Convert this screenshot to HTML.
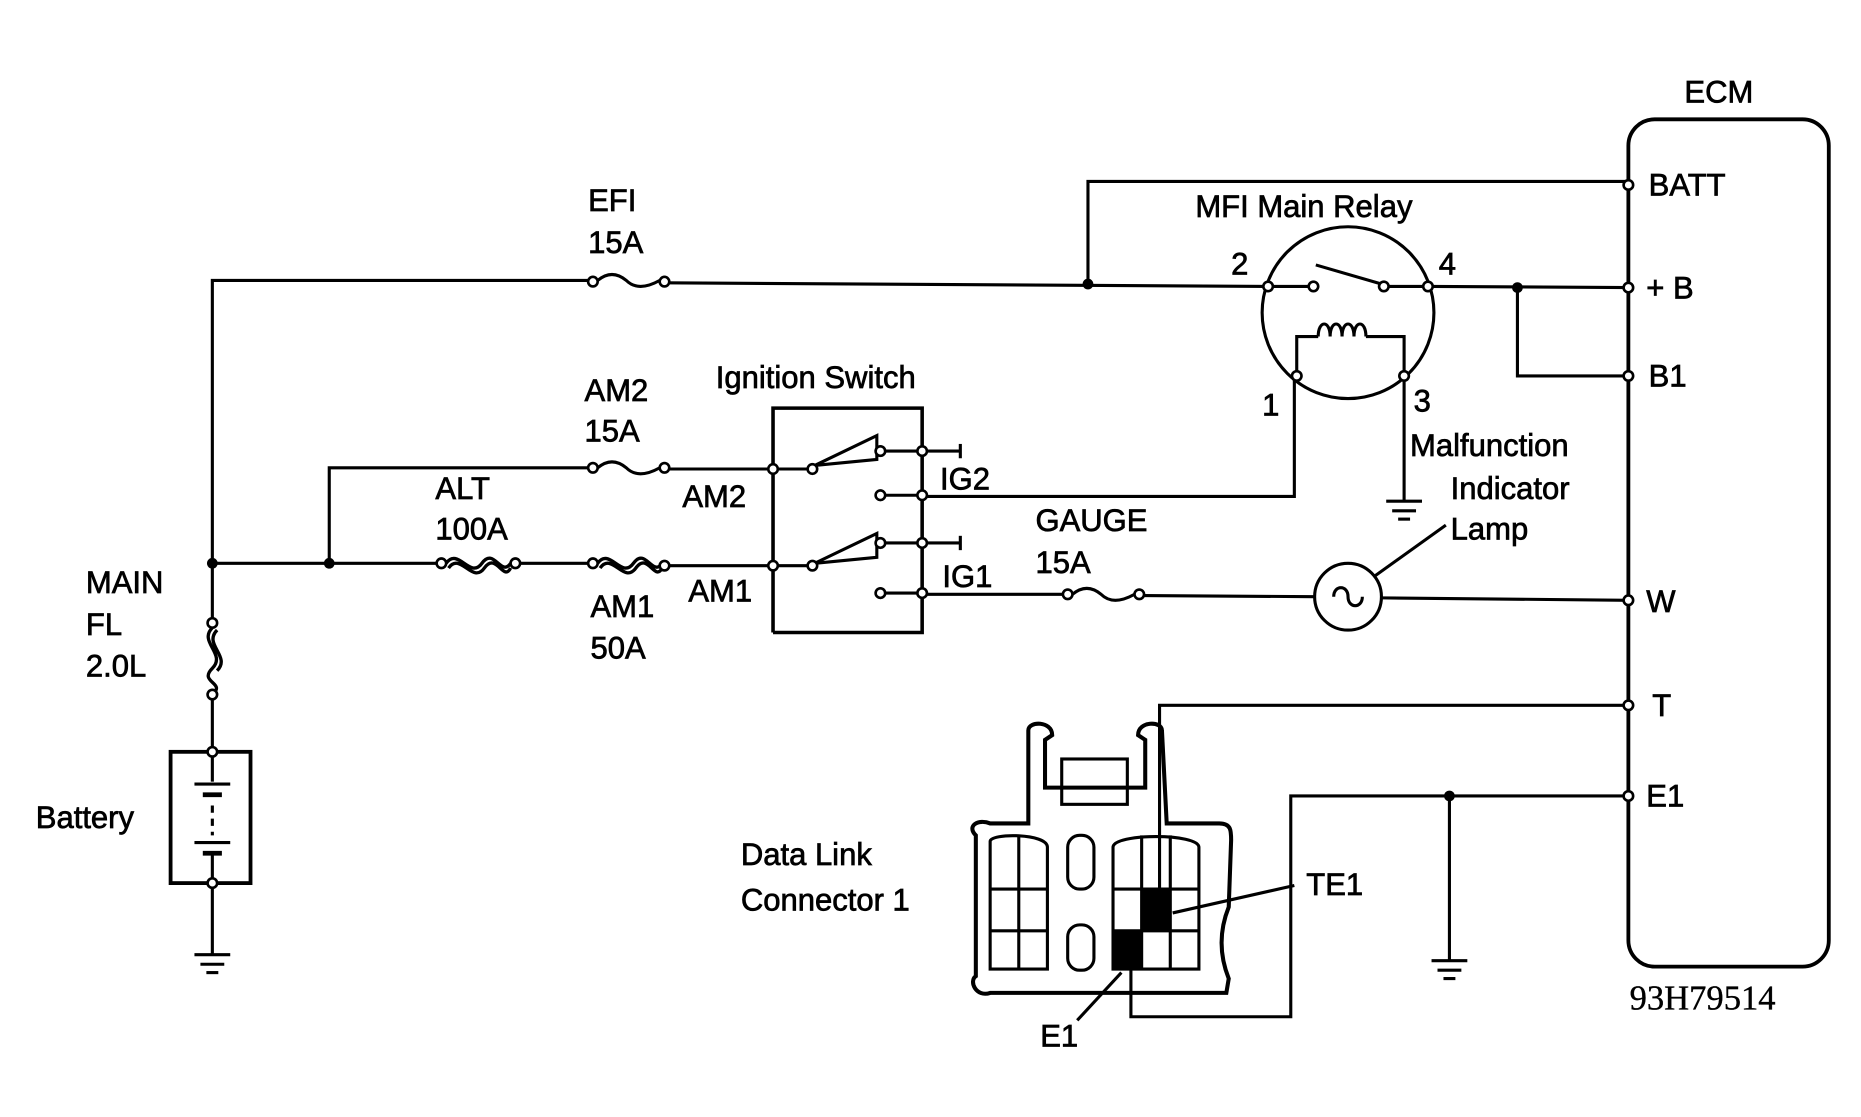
<!DOCTYPE html>
<html><head><style>html,body{margin:0;padding:0;background:#fff;width:1861px;height:1117px;overflow:hidden}
svg{display:block}text{font-family:"Liberation Sans",sans-serif;fill:#000;stroke:#000;stroke-width:0.6}</style></head><body>
<svg width="1861" height="1117" viewBox="0 0 1560 936" preserveAspectRatio="none" xmlns="http://www.w3.org/2000/svg">
<g fill="none" stroke="#000" stroke-width="2.6">
<rect x="1365" y="100" width="168" height="710" rx="22" stroke-width="3.2"/>
<polyline points="912,238 912,152 1365,152"/>
<polyline points="178,472 178,235 497,235"/>
<path d="M501,235 q12,-10 24,0 q10,10 28,0"/>
<line x1="557" y1="237" x2="1062" y2="240"/>
<line x1="178" y1="472" x2="178" y2="520"/>
<path d="M178,526 c-12,12 12,22 0,34 c-12,12 12,12 0,22 M182,528 c-12,12 12,22 0,34" stroke-width="2.8"/>
<line x1="178" y1="584" x2="178" y2="630"/>
<rect x="143" y="630" width="67" height="110" stroke-width="3.2"/>
<line x1="178" y1="630" x2="178" y2="655"/><line x1="163" y1="657" x2="193" y2="657"/><line x1="170" y1="666" x2="186" y2="666" stroke-width="4"/>
<line x1="178" y1="675" x2="178" y2="700" stroke-dasharray="6 5"/>
<line x1="163" y1="706" x2="193" y2="706"/><line x1="170" y1="715" x2="186" y2="715" stroke-width="4"/>
<line x1="178" y1="715" x2="178" y2="740"/>
<line x1="178" y1="740" x2="178" y2="800"/>
<line x1="163" y1="800" x2="193" y2="800"/><line x1="168" y1="808" x2="188" y2="808"/><line x1="173" y1="815" x2="183" y2="815"/>
<line x1="178" y1="472" x2="370" y2="472"/>
<path d="M374,472 c10,-14 20,14 30,0 c10,-14 16,12 24,0 M376,476 c10,-14 20,14 30,0 c10,-14 16,12 22,0" stroke-width="2.8"/>
<line x1="432" y1="472" x2="497" y2="472"/>
<path d="M501,472 c10,-14 20,14 30,0 c10,-14 16,12 24,0 M503,476 c10,-14 20,14 30,0 c10,-14 16,12 22,0" stroke-width="2.8"/>
<line x1="557" y1="474" x2="648" y2="474"/>
<polyline points="276,472 276,392 497,392"/>
<path d="M501,392 q12,-10 24,0 q10,10 28,0"/>
<line x1="557" y1="393" x2="648" y2="393"/>
<polyline points="648,530 648,342 773,342 773,530 648,530" stroke-width="3"/>
<line x1="648" y1="393" x2="680" y2="393"/><path d="M683,390 L735,365 L735,385 Z M735,378 L773,378"/>
<line x1="773" y1="378" x2="805" y2="378"/><line x1="805" y1="372" x2="805" y2="384"/>
<line x1="740" y1="415" x2="773" y2="415"/>
<line x1="648" y1="474" x2="680" y2="474"/><path d="M683,472 L735,447 L735,467 Z M735,455 L773,455"/>
<line x1="773" y1="455" x2="805" y2="455"/><line x1="805" y1="449" x2="805" y2="461"/>
<line x1="740" y1="497" x2="773" y2="497"/>
<polyline points="773,416 1085,416 1085,318"/>
<line x1="773" y1="498" x2="895" y2="498"/>
<path d="M899,498 q12,-10 24,0 q10,10 28,0"/>
<line x1="955" y1="499" x2="1102" y2="500"/>
<circle cx="1130" cy="500" r="28"/>
<path d="M1118,500 c0,-10 12,-10 12,0 c0,10 12,10 12,0"/>
<line x1="1158" y1="501" x2="1365" y2="503"/>
<line x1="1152" y1="483" x2="1212" y2="440"/>
<circle cx="1130" cy="262" r="72"/>
<line x1="1066" y1="240" x2="1100" y2="240"/><line x1="1103" y1="222" x2="1158" y2="238"/><line x1="1162" y1="240" x2="1195" y2="240"/>
<polyline points="1087,315 1087,282 1105,282"/><path d="M1105,282 c0,-14 10,-14 10,0 c0,-14 10,-14 10,0 c0,-14 10,-14 10,0 c0,-14 10,-14 10,0"/><polyline points="1145,282 1177,282 1177,315"/>
<polyline points="1177,318 1177,420"/>
<line x1="1162" y1="420" x2="1192" y2="420"/><line x1="1167" y1="428" x2="1187" y2="428"/><line x1="1172" y1="435" x2="1182" y2="435"/>
<line x1="1200" y1="240" x2="1365" y2="241"/>
<polyline points="1272,241 1272,315 1365,315"/>
<polyline points="1365,591 972,591 972,770"/>
<polyline points="1365,667 1082,667 1082,852 948,852 948,810"/>
<line x1="1215" y1="667" x2="1215" y2="805"/>
<line x1="1200" y1="805" x2="1230" y2="805"/><line x1="1205" y1="813" x2="1225" y2="813"/><line x1="1210" y1="820" x2="1220" y2="820"/>
<path d="M862,690 L862,612 c0,-8 20,-8 20,4 L876,620 L876,660 L960,660 L960,620 L954,616 c0,-12 20,-12 20,-4 L978,690 L1022,690 c10,0 10,6 10,14 L1030,760 c-8,20 -8,40 0,60 L1028,832 L830,832 c-12,4 -18,-10 -12,-14 L818,815 L818,700 c-8,-8 2,-14 12,-10 Z" stroke-width="3.4"/>
<rect x="890" y="636" width="55" height="38"/>
<path d="M830,705 L830,812 L878,812 L878,710 c0,-12 -48,-12 -48,-5 Z"/>
<line x1="854" y1="700" x2="854" y2="812"/><line x1="830" y1="745" x2="878" y2="745"/><line x1="830" y1="780" x2="878" y2="780"/>
<rect x="895" y="700" width="22" height="45" rx="10"/><rect x="895" y="775" width="22" height="38" rx="10"/>
<path d="M933,812 L933,710 c0,-12 72,-12 72,0 L1005,812 Z"/>
<line x1="957" y1="700" x2="957" y2="812"/><line x1="981" y1="700" x2="981" y2="812"/>
<line x1="933" y1="745" x2="1005" y2="745"/><line x1="933" y1="780" x2="1005" y2="780"/>
<line x1="983" y1="765" x2="1085" y2="742"/><line x1="940" y1="815" x2="903" y2="855"/>
</g>
<rect x="958" y="745" width="23" height="35" fill="#000"/>
<rect x="934" y="780" width="23" height="32" fill="#000"/>
<g fill="#000">
<circle cx="912" cy="238" r="4.5"/><circle cx="178" cy="472" r="4.5"/><circle cx="276" cy="472" r="4.5"/>
<circle cx="1272" cy="241" r="4.5"/><circle cx="1215" cy="667" r="4.5"/>
</g>
<g fill="#fff" stroke="#000" stroke-width="2.2">
<circle cx="1365" cy="155" r="4"/><circle cx="1365" cy="241" r="4"/><circle cx="1365" cy="315" r="4"/>
<circle cx="1365" cy="503" r="4"/><circle cx="1365" cy="591" r="4"/><circle cx="1365" cy="667" r="4"/>
<circle cx="497" cy="236" r="4"/><circle cx="557" cy="236" r="4"/>
<circle cx="497" cy="392" r="4"/><circle cx="557" cy="392" r="4"/>
<circle cx="370" cy="472" r="4"/><circle cx="432" cy="472" r="4"/>
<circle cx="497" cy="472" r="4"/><circle cx="557" cy="474" r="4"/>
<circle cx="178" cy="522" r="4"/><circle cx="178" cy="582" r="4"/>
<circle cx="178" cy="630" r="4"/><circle cx="178" cy="740" r="4"/>
<circle cx="648" cy="393" r="4"/><circle cx="681" cy="393" r="4"/><circle cx="738" cy="378" r="4"/><circle cx="773" cy="378" r="4"/>
<circle cx="738" cy="415" r="4"/><circle cx="773" cy="415" r="4"/>
<circle cx="648" cy="474" r="4"/><circle cx="681" cy="474" r="4"/><circle cx="738" cy="455" r="4"/><circle cx="773" cy="455" r="4"/>
<circle cx="738" cy="497" r="4"/><circle cx="773" cy="497" r="4"/>
<circle cx="895" cy="498" r="4"/><circle cx="955" cy="498" r="4"/>
<circle cx="1063" cy="240" r="4"/><circle cx="1101" cy="240" r="4"/><circle cx="1160" cy="240" r="4"/><circle cx="1197" cy="240" r="4"/>
<circle cx="1087" cy="315" r="4"/><circle cx="1177" cy="315" r="4"/>
</g>
<g font-size="26">
<text x="1412" y="86">ECM</text>
<text x="1382" y="164">BATT</text><text x="1380" y="250">+ B</text><text x="1382" y="324">B1</text>
<text x="1380" y="513">W</text><text x="1385" y="600">T</text><text x="1380" y="676">E1</text>
<text x="1002" y="182">MFI Main Relay</text>
<text x="1032" y="230">2</text><text x="1206" y="230">4</text><text x="1058" y="348">1</text><text x="1185" y="345">3</text>
<text x="1182" y="382">Malfunction</text><text x="1216" y="418">Indicator</text><text x="1216" y="452">Lamp</text>
<text x="493" y="177">EFI</text><text x="493" y="212">15A</text>
<text x="600" y="325">Ignition Switch</text>
<text x="490" y="336">AM2</text><text x="490" y="370">15A</text>
<text x="365" y="418">ALT</text><text x="365" y="452">100A</text>
<text x="572" y="425">AM2</text><text x="577" y="504">AM1</text>
<text x="495" y="517">AM1</text><text x="495" y="552">50A</text>
<text x="788" y="410">IG2</text><text x="790" y="492">IG1</text>
<text x="868" y="445">GAUGE</text><text x="868" y="480">15A</text>
<text x="72" y="497">MAIN</text><text x="72" y="532">FL</text><text x="72" y="567">2.0L</text>
<text x="30" y="694">Battery</text>
<text x="621" y="725">Data Link</text><text x="621" y="763">Connector 1</text>
<text x="1095" y="750">TE1</text><text x="872" y="877">E1</text>
<text x="1366" y="846" font-size="29" style="font-family:'Liberation Serif',serif;stroke-width:0.3">93H79514</text>
</g>
</svg>
</body></html>
